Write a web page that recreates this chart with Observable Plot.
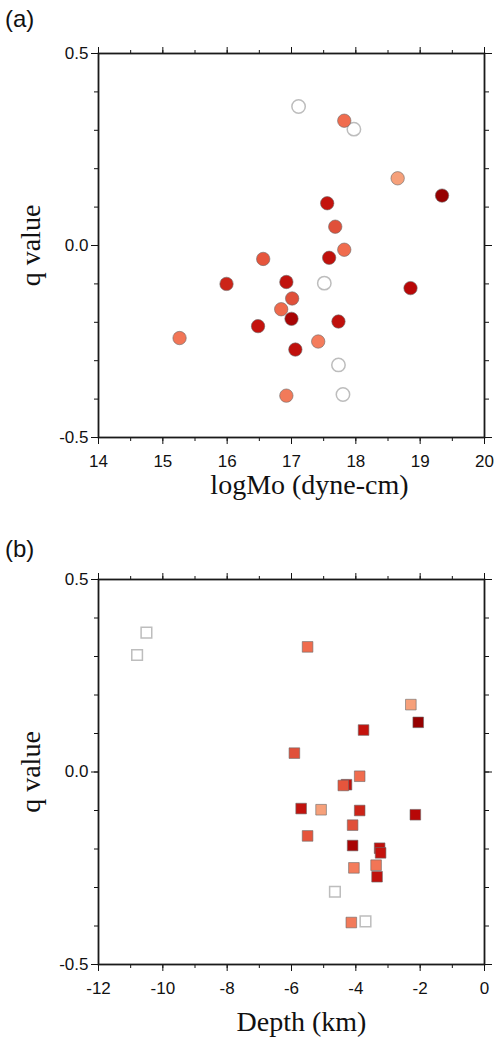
<!DOCTYPE html>
<html><head><meta charset="utf-8">
<script src="https://cdn.jsdelivr.net/npm/d3@7"></script>
<script src="https://cdn.jsdelivr.net/npm/@observablehq/plot@0.6"></script>
<style>
body{margin:0;background:#fff;width:494px;height:1038px;overflow:hidden;font-family:"Liberation Sans",Arial,sans-serif}
.panel{position:relative;width:494px;height:519px}
.tag{position:absolute;left:5px;font-size:24px;line-height:24px;color:#111;font-family:"Liberation Sans",Arial,sans-serif}
svg{display:block}
</style></head><body>
<div id="pa" class="panel"><div class="tag" style="top:7px">(a)</div></div>
<div id="pb" class="panel"><div class="tag" style="top:18px">(b)</div></div>
<script>
// ---- Panel (a): q value vs logMo ----
const logMoFilled = [17.82, 18.65, 19.34, 17.555, 17.68, 17.82, 16.56, 17.585, 15.99, 16.92, 18.85, 17.01, 16.84, 17.0, 17.73, 16.48, 15.26, 17.415, 17.06, 16.92];
const qFilledA    = [0.325, 0.175, 0.130, 0.110, 0.049, -0.011, -0.035, -0.032, -0.100, -0.095, -0.111, -0.138, -0.166, -0.191, -0.198, -0.210, -0.241, -0.250, -0.271, -0.391];
const colorA      = ["#f06c4e", "#f6a07a", "#960000", "#c4130d", "#e0503a", "#f06c4e", "#e6553c", "#c0110c", "#cc2418", "#c1130e", "#b80707", "#e0503a", "#ef6a4c", "#a80404", "#c0100c", "#c4120d", "#f27556", "#f47c5c", "#c0100c", "#f27a5a"];
const logMoOpen   = [17.11, 17.97, 17.51, 17.73, 17.80];
const qOpenA      = [0.362, 0.303, -0.098, -0.311, -0.388];

// ---- Panel (b): q value vs Depth ----
const depthFilled = [-5.50, -2.29, -2.06, -3.76, -5.91, -3.88, -4.29, -4.39, -5.70, -5.08, -3.88, -2.15, -4.10, -5.50, -4.10, -3.26, -3.23, -4.06, -3.37, -3.34, -4.14];
const qFilledB    = [0.325, 0.175, 0.129, 0.109, 0.049, -0.011, -0.033, -0.035, -0.095, -0.098, -0.100, -0.111, -0.138, -0.166, -0.191, -0.198, -0.210, -0.249, -0.242, -0.272, -0.391];
const colorB      = ["#f06c4e", "#f6a07a", "#960000", "#c4130d", "#e0503a", "#f06c4e", "#c0110c", "#e6553c", "#c1130e", "#f6a07a", "#cc2418", "#b80707", "#e0503a", "#e6553c", "#a80404", "#c0100c", "#c4120d", "#f47c5c", "#f27556", "#c0100c", "#f27a5a"];
const depthOpen   = [-10.51, -10.80, -4.65, -3.70];
const qOpenB      = [0.362, 0.304, -0.311, -0.388];

// ---- Axes ----
const yMajor = [-0.5, 0.0, 0.5];
const yMinor = d3.range(-5, 6).map(i => i / 10);
const xMajorA = [14, 15, 16, 17, 18, 19, 20];
const xMinorA = d3.range(14, 20.01, 0.5);
const xMajorB = [-12, -10, -8, -6, -4, -2, 0];
const xMinorB = d3.range(-12, 0.01, 1);

const serif = "'Liberation Serif','Times New Roman',serif";
const sans = "'Liberation Sans',Arial,sans-serif";

function makePanel({xs, qs, colors, oxs, oqs, xDomain, xMajor, xMinor, xTitle, symbol, r, marginTop, marginBottom, titleDy, titleDx}) {
  const filled = xs.map((x, i) => ({x, q: qs[i], c: colors[i]}));
  const open = oxs.map((x, i) => ({x, q: oqs[i]}));
  const blank = () => "";
  return Plot.plot({
    width: 494, height: 519,
    marginLeft: 98, marginRight: 10, marginTop, marginBottom,
    x: {domain: xDomain},
    y: {domain: [-0.5, 0.5]},
    color: {type: "identity"},
    style: {fontFamily: sans, fontSize: "17px", color: "#111", background: "#fff"},
    marks: [
      Plot.axisX(xMinor, {anchor: "bottom", tickSize: 4, tickFormat: blank, label: null}),
      Plot.axisX(xMajor, {anchor: "bottom", tickSize: 7, tickPadding: 10, tickFormat: d => String(d), label: null, fontSize: 17}),
      Plot.axisX(xMinor, {anchor: "top", tickSize: 4, tickFormat: blank, label: null}),
      Plot.axisX(xMajor, {anchor: "top", tickSize: 7, tickFormat: blank, label: null}),
      Plot.axisY(yMinor, {anchor: "left", tickSize: 4, tickFormat: blank, label: null}),
      Plot.axisY(yMajor, {anchor: "left", tickSize: 7, tickPadding: 3, tickFormat: d => d.toFixed(1), label: null, fontSize: 17}),
      Plot.axisY(yMinor, {anchor: "right", tickSize: 4, tickFormat: blank, label: null}),
      Plot.axisY(yMajor, {anchor: "right", tickSize: 7, tickFormat: blank, label: null}),
      Plot.frame({stroke: "#1a1a1a", strokeWidth: 1.8}),
      Plot.dot(open, {x: "x", y: "q", r, symbol, fill: "#fff", stroke: "#bdbdbd", strokeWidth: 1.5}),
      Plot.dot(filled, {x: "x", y: "q", r, symbol, fill: "c", stroke: "#6a6a6a", strokeWidth: 0.8, strokeOpacity: 0.75}),
      Plot.text([xTitle], {frameAnchor: "bottom", dy: titleDy, dx: titleDx, textAnchor: "middle", lineAnchor: "middle", fontFamily: serif, fontSize: 28, fill: "#111"}),
      Plot.text(["q value"], {frameAnchor: "left", dx: -67, rotate: -90, textAnchor: "middle", lineAnchor: "middle", fontFamily: serif, fontSize: 28, fill: "#111"})
    ]
  });
}

document.getElementById("pa").appendChild(makePanel({
  xs: logMoFilled, qs: qFilledA, colors: colorA, oxs: logMoOpen, oqs: qOpenA,
  xDomain: [14, 20], xMajor: xMajorA, xMinor: xMinorA, xTitle: "logMo (dyne-cm)",
  symbol: "circle", r: 6.7, marginTop: 53, marginBottom: 82, titleDy: 48, titleDx: 18
}));
document.getElementById("pb").appendChild(makePanel({
  xs: depthFilled, qs: qFilledB, colors: colorB, oxs: depthOpen, oqs: qOpenB,
  xDomain: [-12, 0], xMajor: xMajorB, xMinor: xMinorB, xTitle: "Depth (km)",
  symbol: "square", r: 6, marginTop: 60, marginBottom: 74, titleDy: 58, titleDx: 10
}));
</script>
</body></html>
